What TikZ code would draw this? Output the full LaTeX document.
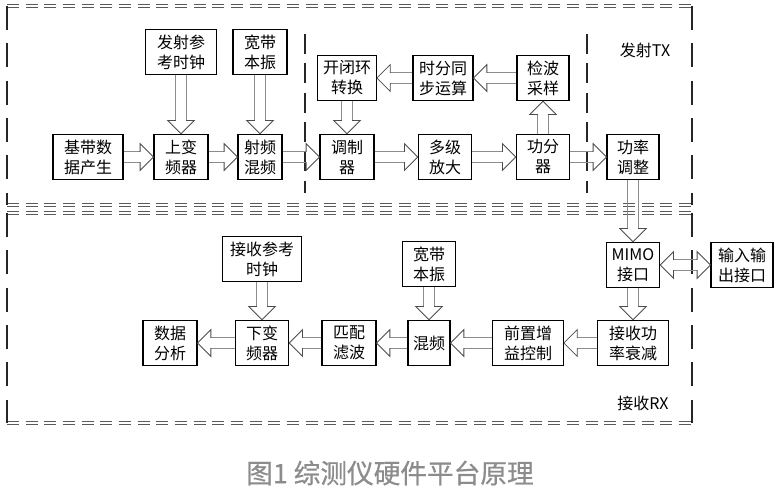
\documentclass[tikz,border=0pt]{standalone}
\usepackage{fontspec}
\newfontfamily\cjk{Noto Sans CJK SC}
\newfontfamily\capfont[FakeBold=0.6]{Noto Sans CJK SC}
\usepackage{xcolor}
\definecolor{capgray}{RGB}{140,140,140}
\usetikzlibrary{decorations.markings}
\tikzset{>=latex,
    unit/.style={draw, line width=0.8pt, inner sep=0pt, align=center,
        minimum height=34pt, minimum width=#1, font=\cjk\fontsize{12}{15}\selectfont},
    shaftline/.style={draw=gray!90, line width=0.7pt},
    headshape/.style={draw=black!70, line width=0.6pt, line join=miter},
    hollow/.style={decorate, decoration={markings, mark=at position 0.9999 with {
        \draw[shaftline] (-\pgfdecoratedpathlength,3.8pt) -- (-10pt,3.8pt);
        \draw[shaftline] (-\pgfdecoratedpathlength,-3.8pt) -- (-10pt,-3.8pt);
        \draw[headshape] (-10pt,3.8pt) -- (-10pt,10pt) -- (0pt,0pt) -- (-10pt,-10pt) -- (-10pt,-3.8pt);}}},
    twoway/.style={decorate, decoration={markings, mark=at position 0.9999 with {
        \draw[shaftline] (-\pgfdecoratedpathlength+10pt,3.8pt) -- (-10pt,3.8pt);
        \draw[shaftline] (-\pgfdecoratedpathlength+10pt,-3.8pt) -- (-10pt,-3.8pt);
        \draw[headshape] (-10pt,3.8pt) -- (-10pt,10pt) -- (0pt,0pt) -- (-10pt,-10pt) -- (-10pt,-3.8pt);
        \draw[headshape] (-\pgfdecoratedpathlength+10pt,3.8pt) -- (-\pgfdecoratedpathlength+10pt,10pt)
            -- (-\pgfdecoratedpathlength,0pt) -- (-\pgfdecoratedpathlength+10pt,-10pt) -- (-\pgfdecoratedpathlength+10pt,-3.8pt);}}},
    hframe/.style={draw=gray!70!black, line width=0.5pt, double=white, double distance=1.4pt, dash pattern=on 9pt off 5pt},
    vframe/.style={draw=black!85, line width=1.1pt, dash pattern=on 18pt off 10pt},
    hinner/.style={draw=gray!70!black, line width=0.5pt, double=white, double distance=1pt, dash pattern=on 5pt off 2.5pt},
    vinner/.style={draw=black!85, line width=1pt, dash pattern=on 15pt off 7pt}}

\begin{document}
\begin{tikzpicture}[x=0.75pt, y=-0.75pt]
    \useasboundingbox (0,0) rectangle (777,491);
    % frames
    \draw[hframe] (7,6) -- (692,6);
    \draw[hframe] (7,205) -- (692,205);
    \draw[vframe] (7,6) -- (7,205);
    \draw[vframe] (692,6) -- (692,205);
    \draw[hframe] (7,213) -- (692,213);
    \draw[hframe] (7,423) -- (692,423);
    \draw[vframe] (7,213) -- (7,423);
    \draw[vframe] (692,213) -- (692,423);
    \draw[hinner] (305,34) -- (587,34);
    \draw[hinner] (305,193) -- (587,193);
    \draw[vinner] (305,34) -- (305,193);
    \draw[vinner] (587,34) -- (587,193);
    \node[font=\cjk\fontsize{12}{15}\selectfont] at (645,50) (txlab) {发射TX};
    \node[font=\cjk\fontsize{12}{15}\selectfont] at (643,403) (rxlab) {接收RX};

    % transmit chain
    \node[unit=52.5pt] at (88,157) (bb) {基带数\\据产生};
    \node[unit=40.5pt] at (181,157) (upc) {上变\\频器};
    \node[unit=53pt] at (181,52) (txclk) {发射参\\考时钟};
    \node[unit=40.5pt] at (260,52) (txlo) {宽带\\本振};
    \node[unit=33pt] at (260,157) (rfmix) {射频\\混频};
    \node[unit=44pt] at (347,78) (loop) {开闭环\\转换};
    \node[unit=40.5pt] at (347,157) (mod) {调制\\器};
    \node[unit=45pt] at (443,78) (tdsync) {时分同\\步运算};
    \node[unit=39pt] at (543,78) (det) {检波\\采样};
    \node[unit=40pt] at (445,157) (amp) {多级\\放大};
    \node[unit=40pt] at (543,157) (split) {功分\\器};
    \node[unit=39pt] at (633,157) (pwr) {功率\\调整};

    % receive chain
    \node[unit=40pt] at (633,265) (mimo) {MIMO\\接口};
    \node[unit=46.5pt] at (742,265) (io) {输入输\\出接口};
    \node[unit=53pt] at (633,343) (att) {接收功\\率衰减};
    \node[unit=53pt] at (528,343) (pre) {前置增\\益控制};
    \node[unit=31.5pt] at (429,343) (mix) {混频};
    \node[unit=40pt] at (429,264) (rxlo) {宽带\\本振};
    \node[unit=40.5pt] at (349,343) (mf) {匹配\\滤波};
    \node[unit=40pt] at (262,343) (dnc) {下变\\频器};
    \node[unit=59pt] at (262,259) (rxclk) {接收参考\\时钟};
    \node[unit=40.5pt] at (170,343) (ana) {数据\\分析};

    \path[hollow] (bb) -- (upc);
    \path[hollow] (txclk) -- (upc);
    \path[hollow] (upc) -- (rfmix);
    \path[hollow] (txlo) -- (rfmix);
    \path[hollow] (rfmix) -- (mod);
    \path[hollow] (loop) -- (mod);
    \path[hollow] (mod) -- (amp);
    \path[hollow] (amp) -- (split);
    \path[hollow] (split) -- (det);
    \path[hollow] (det) -- (tdsync);
    \path[hollow] (tdsync) -- (loop);
    \path[hollow] (split) -- (pwr);
    \path[hollow] (pwr) -- (mimo);
    \path[twoway] (mimo) -- (io);
    \path[hollow] (mimo) -- (att);
    \path[hollow] (att) -- (pre);
    \path[hollow] (pre) -- (mix);
    \path[hollow] (rxlo) -- (mix);
    \path[hollow] (mix) -- (mf);
    \path[hollow] (mf) -- (dnc);
    \path[hollow] (rxclk) -- (dnc);
    \path[hollow] (dnc) -- (ana);

    \node[font=\capfont\fontsize{20}{22}\selectfont, text=capgray] at (390,473) (cap) {图1 综测仪硬件平台原理};
\end{tikzpicture}
\end{document}
